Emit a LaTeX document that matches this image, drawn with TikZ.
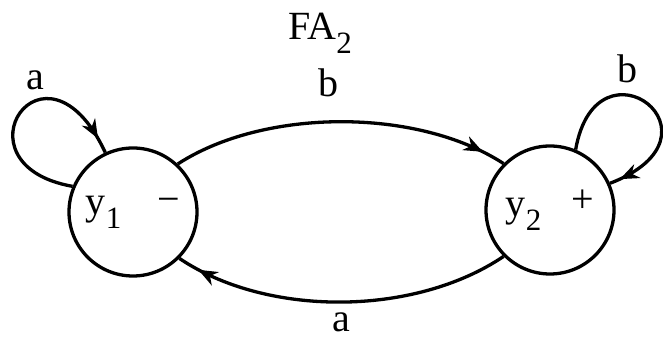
\documentclass[tikz,border=0pt]{standalone}
\usepackage{fontspec}
\setmainfont{Liberation Serif}
\usetikzlibrary{arrows.meta,decorations.markings}
\newcommand{\sbs}[1]{\raisebox{-14pt}{\fontsize{31}{31}\selectfont #1}}
\tikzset{
  state/.style={circle,draw,line width=3.3pt,minimum size=128pt,inner sep=0pt},
  lbl/.style={font=\fontsize{40}{42}\selectfont,inner sep=0pt,anchor=base},
  edge/.style={line width=3.3pt,postaction={decorate},
    decoration={markings,mark=at position #1 with {\arrow{Stealth[length=19pt,width=15pt,inset=6pt]}}}},
}
\begin{document}
\begin{tikzpicture}[x=1pt,y=1pt,font=\fontsize{40}{42}\selectfont]
\useasboundingbox (0,0) rectangle (663,342);
\node[state] (y1) at (133,130) {y\sbs{1}\hspace{36pt}\raisebox{2pt}{−}};
\node[state] (y2) at (550,132) {y\sbs{2}\hspace{30pt}\raisebox{4pt}{+}};
\node[lbl,anchor=base west] (title) at (288,302) {FA\sbs{2}};
\node[lbl] (la1) at (35,252) {a};
\node[lbl] (lb1) at (328,245) {b};
\node[lbl] (lb2) at (627,259) {b};
\node[lbl] (la2) at (341,10) {a};
\draw[edge=0.93] (y1.157) .. controls +(170:125) and +(115:143) .. (y1.115);
\draw[edge=0.95] (y2.67) .. controls +(80:121) and +(21:134) .. (y2.24);
\draw[edge=0.93] (y1.47) .. controls +(33:103) and +(147:103) .. (y2.135);
\draw[edge=0.935] (y2.225) .. controls +(214:108) and +(-34:105) .. (y1.-45);
\end{tikzpicture}
\end{document}
